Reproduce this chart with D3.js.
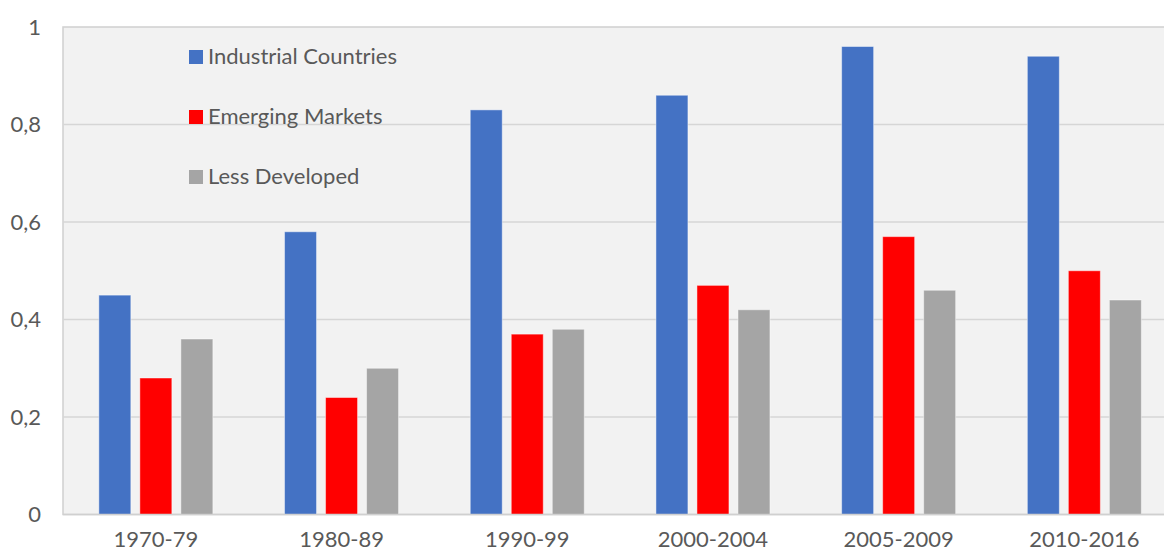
<!DOCTYPE html>
<html><head><meta charset="utf-8">
<script src="https://cdn.jsdelivr.net/npm/d3@7"></script>
<style>
html,body{margin:0;padding:0;background:#fff;overflow:hidden}
svg{display:block;font-family:Lato, "Open Sans", sans-serif}
</style></head>
<body>
<svg id="c" width="1164" height="554"></svg>
<script>
const categories = ["1970-79","1980-89","1990-99","2000-2004","2005-2009","2010-2016"];
const seriesNames = ["Industrial Countries","Emerging Markets","Less Developed"];
const industrial = [0.45,0.58,0.83,0.86,0.96,0.94];
const emerging = [0.28,0.24,0.37,0.47,0.57,0.50];
const lessDeveloped = [0.36,0.30,0.38,0.42,0.46,0.44];
const yTicks = [0,0.2,0.4,0.6,0.8,1];
const yTickLabels = ["0","0,2","0,4","0,6","0,8","1"];
const colors = ["#4472c4","#ff0000","#a5a5a5"];

const seriesValues = [industrial, emerging, lessDeveloped];
const svg = d3.select("#c");
const pL = 63, pR = 63 + 6*185.7, pT = 27, pB = 514.5;
const FS = 22;

const x0 = d3.scaleBand().domain(categories).range([pL, pR]).paddingInner(0.386).paddingOuter(0.193);
const x1 = d3.scaleBand().domain(d3.range(3)).range([0, x0.bandwidth()]).paddingInner(0.22).paddingOuter(0);
const y = d3.scaleLinear().domain([0,1]).range([pB, pT]);

// plot background
svg.append("rect").attr("x", pL).attr("y", pT).attr("width", pR-pL).attr("height", pB-pT)
  .attr("fill","#f2f2f2").attr("stroke","#d0d0d0").attr("stroke-width",1.5);

// grid
svg.append("g").selectAll("line").data(yTicks.filter(d=>d>0 && d<1)).join("line")
  .attr("x1", pL).attr("x2", pR).attr("y1", d=>y(d)).attr("y2", d=>y(d))
  .attr("stroke","#d6d6d6").attr("stroke-width",1.5);

// y axis labels
const yAxis = d3.axisLeft(y).tickValues(yTicks).tickFormat((d,i)=>yTickLabels[i]).tickSize(0).tickPadding(22);
const ga = svg.append("g").attr("transform",`translate(${pL},0)`).call(yAxis);
ga.select(".domain").remove();
ga.selectAll("text").attr("font-size",FS).attr("fill","#595959").attr("font-family","Lato, 'Open Sans', sans-serif");

// bars
const groups = svg.append("g").selectAll("g").data(categories).join("g")
  .attr("transform", d=>`translate(${x0(d)},0)`);
groups.selectAll("rect").data((d,i)=>seriesValues.map((s,k)=>({k, v:s[i]}))).join("rect")
  .attr("x", d=>x1(d.k)).attr("width", x1.bandwidth())
  .attr("y", d=>y(d.v)).attr("height", d=>y(0)-y(d.v))
  .attr("fill", d=>colors[d.k]).attr("stroke","rgba(255,255,255,0.45)").attr("stroke-width",1);

// bottom axis line
svg.append("line").attr("x1",pL).attr("x2",pR).attr("y1",pB).attr("y2",pB)
  .attr("stroke","#d0d0d0").attr("stroke-width",1.5);

// x labels
const xAxis = d3.axisBottom(x0).tickSize(0).tickPadding(17);
const gx = svg.append("g").attr("transform",`translate(0,${pB})`).call(xAxis);
gx.select(".domain").remove();
gx.selectAll("text").attr("font-size",FS).attr("fill","#595959").attr("font-family","Lato, 'Open Sans', sans-serif");

// legend
const lg = svg.append("g").selectAll("g").data(seriesNames).join("g")
  .attr("transform",(d,i)=>`translate(189,${57+i*60})`);
lg.append("rect").attr("x",0).attr("y",-7).attr("width",14).attr("height",14).attr("fill",(d,i)=>colors[i]);
lg.append("text").attr("x",19).attr("y",6.5).attr("font-size",FS).attr("fill","#595959").text(d=>d);
</script>
</body></html>
